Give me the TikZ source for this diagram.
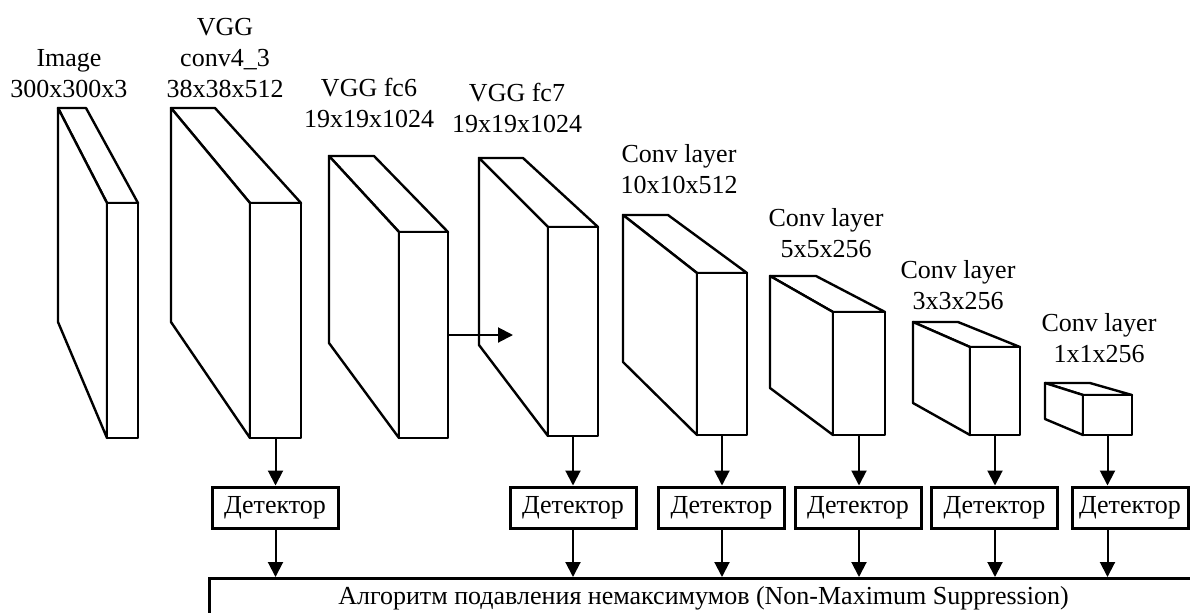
\documentclass[tikz,border=0pt]{standalone}
\usepackage{fontspec}
\setmainfont{Liberation Serif}
\usetikzlibrary{arrows.meta, positioning}

\begin{document}
\begin{tikzpicture}[
  x=0.5pt, y=-0.5pt,
  font=\fontsize{13}{15.5}\selectfont,
  layer/.style={draw, line width=1.2pt, line join=round, fill=white},
  lbl/.style={align=center, anchor=south, inner sep=0pt},
  det/.style={draw, line width=1.5pt, minimum width=63pt, minimum height=20.5pt, inner sep=0pt},
  arrow/.style={-{Triangle[length=7.5pt, width=7.5pt]}, line width=1pt}
]
\useasboundingbox (0,0) rectangle (1190,612);

% layers: name / back x / top y / back right x / front x / front top y / front right x / bottom y / back bottom y
\foreach \n/\xb/\yt/\xc/\xf/\yf/\xg/\yg/\yh in {
    1/58/108/86/107/203/138/438/322,
    2/171/108/215/250/203/301/438/322,
    3/329/156/374/399/232/448/438/343,
    4/479/158/523/548/227/598/436/345,
    5/623/215/668/697/273/747/435/362,
    6/770/276/816/833/312/885/435/388,
    7/913/322/958/970/347/1020/435/403,
    8/1045/383/1090/1083/395/1132/435/419} {
  \draw[layer] (\xb,\yt) -- (\xc,\yt) -- (\xg,\yf) -- (\xf,\yf) -- cycle;
  \draw[layer] (\xb,\yt) -- (\xf,\yf) -- (\xf,\yg) -- (\xb,\yh) -- cycle;
  \draw[layer] (\xf,\yf) rectangle (\xg,\yg);
  \coordinate (out\n) at ({(\xf+\xg)/2},\yg);
}

\node[lbl] (img) at (69,98) {Image\\300x300x3};
\node[lbl] (conv43) at (225,98) {VGG\\conv4\_3\\38x38x512};
\node[lbl] (fc6) at (369,128) {VGG fc6\\19x19x1024};
\node[lbl] (fc7) at (517,133) {VGG fc7\\19x19x1024};
\node[lbl] (conv8) at (679,194) {Conv layer\\10x10x512};
\node[lbl] (conv9) at (826,258) {Conv layer\\5x5x256};
\node[lbl] (conv10) at (958,310) {Conv layer\\3x3x256};
\node[lbl] (conv11) at (1099,363) {Conv layer\\1x1x256};

\coordinate (fc6out) at (448,335);
\coordinate (fc7in) at (513,335);
\draw[arrow] (fc6out) -- (fc7in);

\node[det] (det1) at (275,507.5) {Детектор};
\node[det] (det2) at (573,507.5) {Детектор};
\node[det] (det3) at (721.5,507.5) {Детектор};
\node[det] (det4) at (858,507.5) {Детектор};
\node[det] (det5) at (994.5,507.5) {Детектор};
\node[det, minimum width=58pt] (det6) at (1130,507.5) {Детектор};

\node[draw, line width=1.5pt, anchor=north west, minimum width=494pt,
  text height=9pt, text depth=3pt, inner ysep=4pt] (nms) at (208,577)
  {Алгоритм подавления немаксимумов (Non-Maximum Suppression)};

\foreach \l/\d in {2/1, 4/2, 5/3, 6/4, 7/5, 8/6} {
  \draw[arrow] (out\l) -- (out\l |- det\d.north);
  \draw[arrow] (out\l |- det\d.south) -- (out\l |- nms.north);
}
\end{tikzpicture}
\end{document}
